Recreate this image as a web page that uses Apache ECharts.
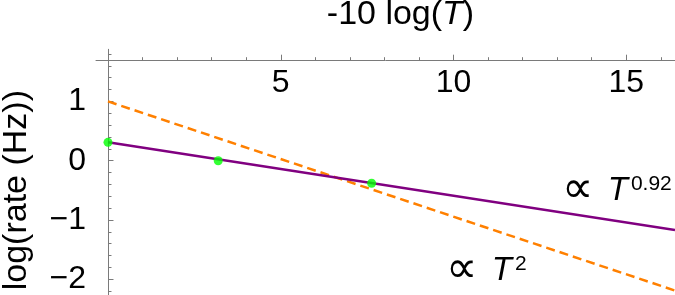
<!DOCTYPE html>
<html>
<head>
<meta charset="utf-8">
<script src="https://cdn.jsdelivr.net/npm/echarts@6/dist/echarts.min.js"></script>
<style>
  html, body { margin: 0; padding: 0; background: #fff; }
  #chart { width: 675px; height: 295px; }
</style>
</head>
<body>
<div id="chart"></div>
<script>
// fitted power laws
const fitX      = [0, 16.41]
const fitY      = [0.31, -1.17]   // ∝ T^0.92
const quadX     = [0, 16.41]
const quadY     = [1.0, -2.19]    // ∝ T^2
// measured points
const ptX       = [0, 3.19, 7.63]
const ptY       = [0.31, 0.0, -0.38]
// ticks
const xMajor    = [5, 10, 15]
const xMinor    = [1, 2, 3, 4, 6, 7, 8, 9, 11, 12, 13, 14, 16]
const yMajor    = [-2, -1, 0, 1]
const yMinor    = [-2.2, -1.8, -1.6, -1.4, -1.2, -0.8, -0.6, -0.4, -0.2, 0.2, 0.4, 0.6, 0.8, 1.2, 1.4, 1.6, 1.8]

const FONT = "'Liberation Sans', Arial, 'DejaVu Sans', sans-serif"
const AXIS = '#7a7a7a'
const X_MIN = -0.347, X_MAX = 16.41
const Y_MIN = -2.265, Y_MAX = 1.879

const pairs = (xs, ys) => xs.map((x, i) => [x, ys[i]])
const minus = v => String(v).replace('-', '\u2212')

const chart = echarts.init(document.getElementById('chart'), null, { renderer: 'canvas' })

const xBase = {
  type: 'value', min: X_MIN, max: X_MAX, position: 'top', offset: -11.4,
  axisLine: { onZero: false, show: false },
  splitLine: { show: false },
  axisLabel: { show: false },
}
const yBase = {
  type: 'value', min: Y_MIN, max: Y_MAX, position: 'left',
  axisLine: { onZero: true, show: false },
  splitLine: { show: false },
  axisLabel: { show: false },
}

const annoRich = {
  s:   { fontSize: 44, fontFamily: "'DejaVu Sans', sans-serif", fill: '#000' },
  i:   { fontSize: 33, fontFamily: FONT, fontStyle: 'italic', fill: '#000', padding: [0, 0, 0, 11] },
  sup: { fontSize: 21, fontFamily: FONT, fill: '#000', padding: [0, 0, 13, 3] },
}

chart.setOption({
  animation: false,
  backgroundColor: '#fff',
  grid: { left: 96, right: 0, top: 49.3, bottom: 0, outerBoundsMode: 'none', containLabel: false },
  xAxis: [
    {
      ...xBase,
      name: '-10 log({i|T})',
      nameLocation: 'middle',
      nameGap: 29,
      nameMoveOverlap: false,
      nameTextStyle: {
        color: '#000', fontSize: 34, fontFamily: FONT, padding: [0, 0, 0, 30],
        rich: { i: { fontSize: 34, fontFamily: FONT, fontStyle: 'italic', color: '#000' } },
      },
      axisLine: { onZero: false, show: true, lineStyle: { color: AXIS, width: 1 } },
      axisTick: { show: true, inside: false, length: 6, customValues: xMajor, lineStyle: { color: AXIS } },
      axisLabel: { show: true, inside: true, margin: 6, customValues: xMajor, color: '#000', fontSize: 32, fontFamily: FONT },
    },
    {
      ...xBase,
      axisTick: { show: true, inside: false, length: 3.5, customValues: xMinor, lineStyle: { color: AXIS } },
    },
  ],
  yAxis: [
    {
      ...yBase,
      axisLine: { onZero: true, show: true, lineStyle: { color: AXIS, width: 1 } },
      axisTick: { show: true, inside: true, length: 5.5, customValues: yMajor, lineStyle: { color: AXIS } },
      axisLabel: { show: true, margin: 10, customValues: yMajor, color: '#000', fontSize: 32, fontFamily: FONT, formatter: minus },
    },
    {
      ...yBase,
      axisTick: { show: true, inside: true, length: 3.5, customValues: yMinor, lineStyle: { color: AXIS } },
    },
  ],
  graphic: [
    {
      type: 'text', left: 0, top: 90, rotation: Math.PI / 2,
      style: { text: 'log(rate (Hz))', fill: '#000', fontSize: 34, fontFamily: FONT },
    },
    {
      type: 'text', left: 562, top: 169,
      style: { text: '{s|\u221D} {i|T}{sup|0.92}', rich: annoRich },
    },
    {
      type: 'text', left: 446, top: 249,
      style: { text: '{s|\u221D} {i|T}{sup|2}', rich: annoRich },
    },
  ],
  series: [
    {
      name: 'T^2', type: 'line', data: pairs(quadX, quadY),
      showSymbol: false, clip: true, z: 2,
      lineStyle: { color: '#ff8000', width: 2.5, type: [9, 5] },
    },
    {
      name: 'T^0.92', type: 'line', data: pairs(fitX, fitY),
      showSymbol: false, clip: true, z: 3,
      lineStyle: { color: '#800080', width: 2.5 },
    },
    {
      name: 'data', type: 'scatter', data: pairs(ptX, ptY),
      symbol: 'circle', symbolSize: 9, z: 4,
      itemStyle: { color: '#00ff00' },
    },
  ],
})
</script>
</body>
</html>
